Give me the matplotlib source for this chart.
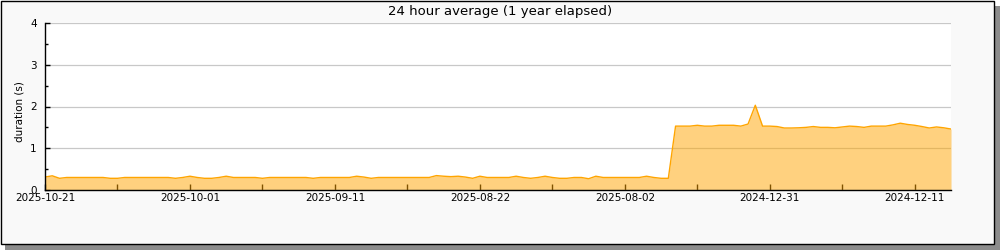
import matplotlib
matplotlib.use("Agg")
import matplotlib.pyplot as plt
from matplotlib.patches import Rectangle
from matplotlib.ticker import MultipleLocator

# daily averages, newest first (x axis is just the sample index)
low_part = [
    0.31, 0.34, 0.28, 0.30, 0.30, 0.30, 0.30, 0.30, 0.30, 0.28,
    0.28, 0.30, 0.30, 0.30, 0.30, 0.30, 0.30, 0.30, 0.28, 0.30,
    0.33, 0.30, 0.28, 0.28, 0.30, 0.33, 0.30, 0.30, 0.30, 0.30,
    0.28, 0.30, 0.30, 0.30, 0.30, 0.30, 0.30, 0.28, 0.30, 0.30,
    0.30, 0.30, 0.30, 0.33, 0.31, 0.28, 0.30, 0.30, 0.30, 0.30,
    0.30, 0.30, 0.30, 0.30, 0.345, 0.33, 0.32, 0.33, 0.31, 0.28,
    0.33, 0.30, 0.30, 0.30, 0.30, 0.33, 0.30, 0.28, 0.30, 0.33,
    0.30, 0.28, 0.28, 0.30, 0.30, 0.27, 0.33, 0.30, 0.30, 0.30,
    0.30, 0.30, 0.30, 0.33, 0.30, 0.28, 0.28,
]
high_part = [
    1.53, 1.53, 1.53, 1.55, 1.53, 1.53, 1.55, 1.55, 1.55, 1.53,
    1.58, 2.03, 1.53, 1.53, 1.52, 1.485, 1.485, 1.49, 1.50, 1.52,
    1.50, 1.50, 1.49, 1.51, 1.53, 1.52, 1.50, 1.53, 1.53, 1.53,
    1.56, 1.60, 1.57, 1.55, 1.52, 1.485, 1.51, 1.49, 1.46,
]
durations = low_part + high_part

tick_labels = ["2025-10-21", "2025-10-01", "2025-09-11", "2025-08-22",
               "2025-08-02", "2024-12-31", "2024-12-11"]
tick_step = 20

title = "24 hour average (1 year elapsed)"
ylabel = "duration (s)"

fig = plt.figure(figsize=(10, 2.5), dpi=100)
fig.patch.set_facecolor("white")

# framed panel with drop shadow
fig.patches.append(Rectangle((0.005, 0.0), 0.995, 0.975, transform=fig.transFigure,
                             facecolor="#8c8c8c", edgecolor="none", zorder=-3))
fig.patches.append(Rectangle((0.0005, 0.024), 0.9935, 0.974, transform=fig.transFigure,
                             facecolor="#f9f9f9", edgecolor="black", linewidth=1.0, zorder=-2))

ax = fig.add_axes([0.045, 0.24, 0.906, 0.668])
ax.set_facecolor("white")

x = list(range(len(durations)))
ax.fill_between(x, durations, 0, color="#FFA500", alpha=0.5, linewidth=0, zorder=2)
ax.plot(x, durations, color="#FFA500", linewidth=1.0, zorder=3)

ax.set_xlim(0, len(durations) - 1)
ax.set_ylim(0, 4)

ax.set_xticks(range(0, len(durations), tick_step))
ax.set_xticklabels(tick_labels)
ax.set_xticks(range(tick_step // 2, len(durations), tick_step), minor=True)
ax.yaxis.set_major_locator(MultipleLocator(1))
ax.yaxis.set_minor_locator(MultipleLocator(0.5))

ax.tick_params(axis="x", which="both", direction="in", length=4.3, width=1,
               labelsize=7.5, pad=2.5, colors="black")
ax.tick_params(axis="y", which="major", direction="in", length=3.4, width=1,
               labelsize=7.5, pad=6)
ax.tick_params(axis="y", which="minor", direction="in", length=2.4, width=1)

ax.grid(axis="y", which="major", color="#c8c8c8", linewidth=0.9)
ax.set_axisbelow(True)

for side in ("top", "right"):
    ax.spines[side].set_visible(False)
for side in ("left", "bottom"):
    ax.spines[side].set_linewidth(1.0)
    ax.spines[side].set_zorder(4)

fig.text(0.5, 1 - 11 / 250, title, ha="center", va="center", fontsize=9.5)
fig.text(0.019, 1 - 112 / 250, ylabel, ha="center", va="center", rotation=90, fontsize=7.5)

fig.savefig("out.png", dpi=100)
